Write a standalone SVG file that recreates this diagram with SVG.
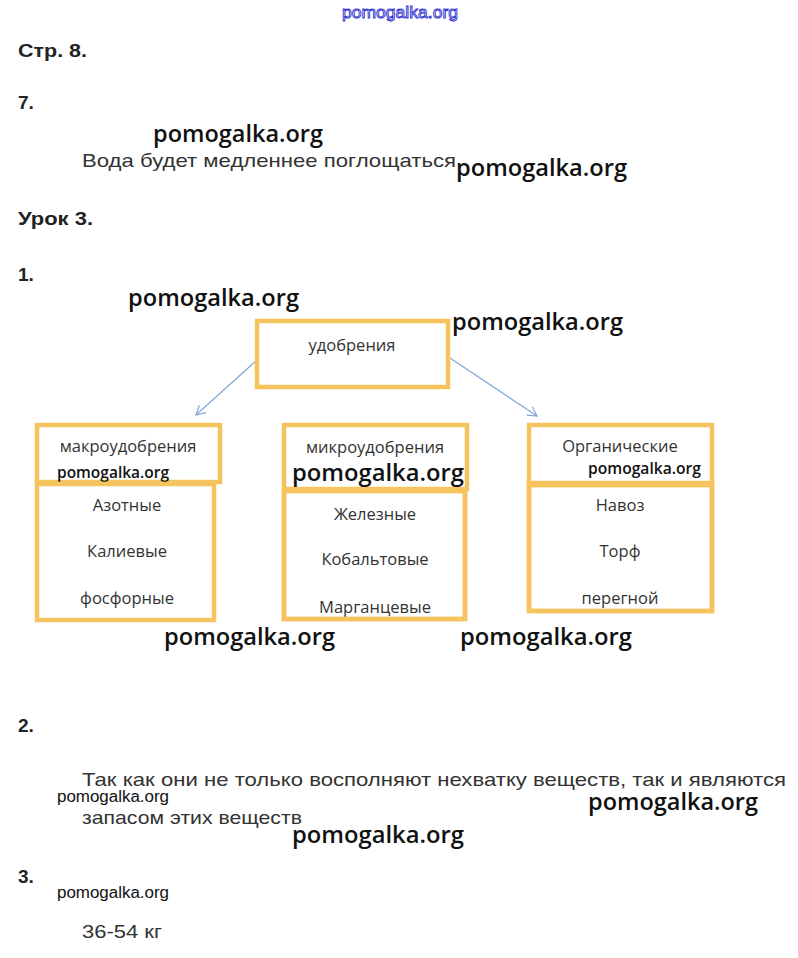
<svg xmlns="http://www.w3.org/2000/svg" width="798" height="958" viewBox="0 0 798 958">
<defs>
<style>
.h{font-family:"Liberation Sans",Arial,sans-serif;font-weight:bold;font-size:19px;fill:#222}
.t{font-family:"Liberation Sans",Arial,sans-serif;font-size:19px;fill:#333}
.wm{font-family:"Open Sans","Noto Sans",sans-serif;font-size:24px;fill:#111;font-weight:600}
.ws{font-family:"Open Sans","Noto Sans",sans-serif;font-size:16px;fill:#111;font-weight:600}
.wn{font-family:"Liberation Sans",Arial,sans-serif;font-size:16px;fill:#111}
.bx{fill:none;stroke:#F5C45F;stroke-width:4.5}
.bt{font-family:"Open Sans","Noto Sans",sans-serif;font-size:16.5px;fill:#333;text-anchor:middle}
.ar{fill:none;stroke:#7FA6D6;stroke-width:1.2}
</style>
<marker id="ah" markerWidth="12" markerHeight="12" refX="10" refY="6" orient="auto" markerUnits="userSpaceOnUse">
<path d="M1,1 L10,6 L1,11" fill="none" stroke="#7FA6D6" stroke-width="1.2"/>
</marker>
</defs>
<rect width="798" height="958" fill="#fff"/>
<text x="400" y="18" text-anchor="middle" font-family="Liberation Sans,Arial,sans-serif" font-size="17" fill="#fff" stroke="#3030d0" stroke-width="0.9" textLength="116" lengthAdjust="spacingAndGlyphs">pomogalka.org</text>

<text class="h" x="18" y="57" textLength="69" lengthAdjust="spacingAndGlyphs">Стр. 8.</text>
<text class="h" x="18" y="109" font-size="21">7.</text>
<text class="wm" x="153" y="142" textLength="170" lengthAdjust="spacingAndGlyphs">pomogalka.org</text>
<text class="t" x="82" y="167" textLength="374" lengthAdjust="spacingAndGlyphs">Вода будет медленнее поглощаться</text>
<text class="wm" x="456" y="176" textLength="171" lengthAdjust="spacingAndGlyphs">pomogalka.org</text>
<text class="h" x="18" y="225" textLength="75" lengthAdjust="spacingAndGlyphs">Урок 3.</text>
<text class="h" x="18" y="281" font-size="21">1.</text>
<text class="wm" x="128" y="306" textLength="171" lengthAdjust="spacingAndGlyphs">pomogalka.org</text>
<text class="wm" x="452" y="330" textLength="171" lengthAdjust="spacingAndGlyphs">pomogalka.org</text>

<g id="connectors">
<line class="ar" x1="257" y1="360" x2="196" y2="415" marker-end="url(#ah)"/>
<line class="ar" x1="450" y1="358" x2="537" y2="416" marker-end="url(#ah)"/>
</g>

<g id="udobreniya">
<rect class="bx" x="257" y="321" width="191" height="66"/>
<text class="bt" x="352" y="351">удобрения</text>
</g>

<g id="makro">
<rect class="bx" x="37" y="425" width="183" height="57"/>
<text class="bt" x="128" y="452">макроудобрения</text>
<text class="ws" x="57" y="478" textLength="112" lengthAdjust="spacingAndGlyphs">pomogalka.org</text>
<rect class="bx" x="37" y="484" width="177" height="136"/>
<text class="bt" x="127" y="511">Азотные</text>
<text class="bt" x="127" y="557">Калиевые</text>
<text class="bt" x="127" y="604">фосфорные</text>
</g>

<g id="mikro">
<rect class="bx" x="284" y="425" width="183" height="64"/>
<text class="bt" x="375" y="453">микроудобрения</text>
<text class="wm" x="292" y="481" textLength="172" lengthAdjust="spacingAndGlyphs">pomogalka.org</text>
<rect class="bx" x="284" y="491" width="181" height="128"/>
<text class="bt" x="375" y="520">Железные</text>
<text class="bt" x="375" y="565">Кобальтовые</text>
<text class="bt" x="375" y="613">Марганцевые</text>
<rect class="bx" x="284" y="491" width="181" height="128"/>
</g>

<g id="organic">
<rect class="bx" x="529" y="425" width="183" height="58"/>
<text class="bt" x="620" y="452">Органические</text>
<text class="ws" x="588" y="474" textLength="113" lengthAdjust="spacingAndGlyphs">pomogalka.org</text>
<rect class="bx" x="529" y="485" width="183" height="126"/>
<text class="bt" x="620" y="511">Навоз</text>
<text class="bt" x="620" y="557">Торф</text>
<text class="bt" x="620" y="604">перегной</text>
<rect class="bx" x="529" y="485" width="183" height="126"/>
</g>

<text class="wm" x="164" y="645" textLength="171" lengthAdjust="spacingAndGlyphs">pomogalka.org</text>
<text class="wm" x="460" y="645" textLength="172" lengthAdjust="spacingAndGlyphs">pomogalka.org</text>

<text class="h" x="18" y="732" font-size="21">2.</text>
<text class="t" x="82" y="786" textLength="704" lengthAdjust="spacingAndGlyphs">Так как они не только восполняют нехватку веществ, так и являются</text>
<text class="wn" x="57" y="802" textLength="112" lengthAdjust="spacingAndGlyphs">pomogalka.org</text>
<text class="wm" x="588" y="810" textLength="170" lengthAdjust="spacingAndGlyphs">pomogalka.org</text>
<text class="t" x="82" y="824" textLength="220" lengthAdjust="spacingAndGlyphs">запасом этих веществ</text>
<text class="wm" x="292" y="843" textLength="172" lengthAdjust="spacingAndGlyphs">pomogalka.org</text>
<text class="h" x="18" y="883" font-size="21">3.</text>
<text class="wn" x="57" y="898" textLength="112" lengthAdjust="spacingAndGlyphs">pomogalka.org</text>
<text class="t" x="82" y="938" textLength="80" lengthAdjust="spacingAndGlyphs">36-54 кг</text>
</svg>
